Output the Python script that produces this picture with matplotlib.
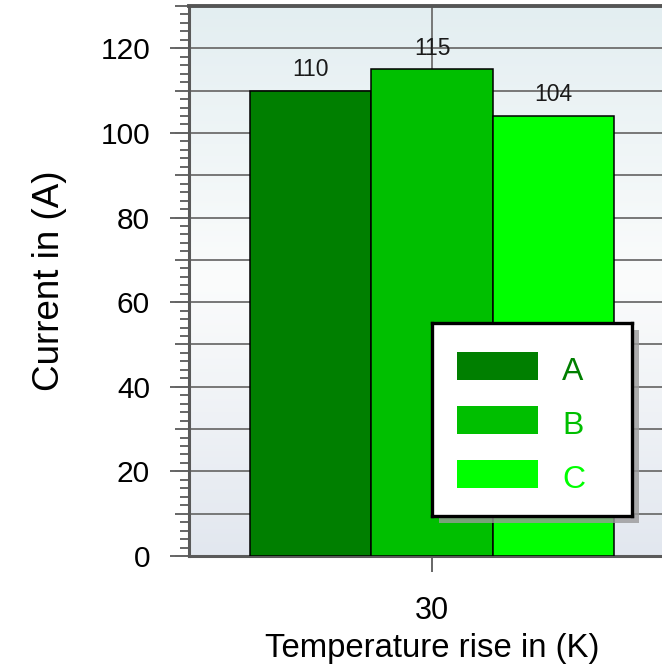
import numpy as np
import matplotlib
matplotlib.use("Agg")
import matplotlib.pyplot as plt
from matplotlib.ticker import MultipleLocator, FuncFormatter
from matplotlib.patches import Rectangle
from matplotlib.colors import LinearSegmentedColormap

# Data
categories = ["30"]
series_names = ["A", "B", "C"]
series_values = [[110], [115], [104]]
series_colors = ["#007f00", "#00bf00", "#00ff00"]

plt.rcParams["font.family"] = ["Liberation Sans", "DejaVu Sans"]

W, H = 662, 670
fig = plt.figure(figsize=(W / 100, H / 100), dpi=100)
fig.patch.set_facecolor("white")

# plot area (extends past the right edge of the figure)
left_px, right_px, top_px, bottom_px = 189, 675, 6, 556
ax = fig.add_axes([left_px / W, (H - bottom_px) / H,
                   (right_px - left_px) / W, (bottom_px - top_px) / H])

ymax = 130
ax.set_ylim(0, ymax)
ax.set_xlim(-1, 1)

# vertical background gradient
grad = LinearSegmentedColormap.from_list(
    "bg", [(0.0, "#e2e7ef"), (0.5, "#fbfcfc"), (1.0, "#e3eef1")])
ax.imshow(np.linspace(0, 1, 256).reshape(-1, 1), cmap=grad, aspect="auto",
          extent=(-1, 1, 0, ymax), origin="lower", zorder=0)

# bars
x = np.arange(len(categories))
bar_w = 0.5
n = len(series_names)
for i, (name, vals, col) in enumerate(zip(series_names, series_values, series_colors)):
    pos = x + (i - (n - 1) / 2) * bar_w
    bars = ax.bar(pos, vals, width=bar_w, color=col, edgecolor="black",
                  linewidth=1.1, zorder=3, label=name)
    for b, v in zip(bars, vals):
        ax.annotate(f"{v}", (b.get_x() + b.get_width() / 2, v),
                    xytext=(0, 7), textcoords="offset points",
                    ha="center", va="bottom", fontsize=16.5, color="#1a1a1a",
                    zorder=4)

# grid
ax.yaxis.set_major_locator(MultipleLocator(10))
ax.yaxis.set_minor_locator(MultipleLocator(2))
ax.yaxis.set_major_formatter(FuncFormatter(
    lambda v, p: f"{v:.0f}" if (round(v) % 20 == 0 and v < ymax) else ""))
ax.grid(axis="y", which="major", color="#777777", linewidth=1.4, zorder=1)
ax.set_xticks(x)
ax.set_xticklabels(categories)
ax.grid(axis="x", which="major", color="#777777", linewidth=1.4, zorder=1)
ax.set_axisbelow(True)

tick_col = "#666666"
ax.tick_params(axis="y", which="major", length=10, width=1.4, color=tick_col,
               labelsize=21.5, pad=18)
ax.tick_params(axis="y", which="minor", length=6.5, width=1.4, color=tick_col)
ax.tick_params(axis="x", which="major", length=11.5, width=1.4, color=tick_col,
               labelsize=22, pad=17)

# longer ticks every 20
sec = ax.secondary_yaxis("left")
sec.set_yticks(np.arange(0, 121, 20))
sec.set_yticklabels([])
sec.tick_params(axis="y", which="major", length=13.7, width=1.4, color=tick_col)
sec.tick_params(axis="y", which="minor", length=0)
sec.spines["left"].set_visible(False)

for s in ["left", "bottom"]:
    ax.spines[s].set_color("#5a5a5a")
    ax.spines[s].set_linewidth(2.2)
ax.spines["top"].set_color("#555555")
ax.spines["top"].set_linewidth(2.8)
ax.spines["right"].set_visible(False)

ax.set_xlabel("Temperature rise in (K)", fontsize=23.7, labelpad=5)
ax.set_ylabel("Current in (A)", fontsize=26.5, labelpad=24)

# legend box with drop shadow
lg_l, lg_r, lg_t, lg_b = 432, 632, 323, 516
sh = 7
fig.patches.append(Rectangle(((lg_l + sh) / W, (H - lg_b - sh) / H),
                             (lg_r - lg_l) / W, (lg_b - lg_t) / H,
                             transform=fig.transFigure, facecolor="#9a9a9a",
                             edgecolor="none", alpha=0.8, zorder=5))
lax = fig.add_axes([lg_l / W, (H - lg_b) / H, (lg_r - lg_l) / W, (lg_b - lg_t) / H])
lax.set_zorder(6)
lax.set_xlim(0, 1)
lax.set_ylim(0, 1)
lax.set_xticks([])
lax.set_yticks([])
lax.set_facecolor("white")
for s in lax.spines.values():
    s.set_color("black")
    s.set_linewidth(2.4)
for i, (name, col) in enumerate(zip(series_names, series_colors)):
    yc = 0.777 - i * 0.28
    lax.add_patch(Rectangle((0.125, yc - 0.072), 0.405, 0.144,
                            facecolor=col, edgecolor="none"))
    lax.text(0.65, yc - 0.072, name, color=col, fontsize=23, ha="left",
             va="baseline")

fig.savefig("out.png", dpi=100)
